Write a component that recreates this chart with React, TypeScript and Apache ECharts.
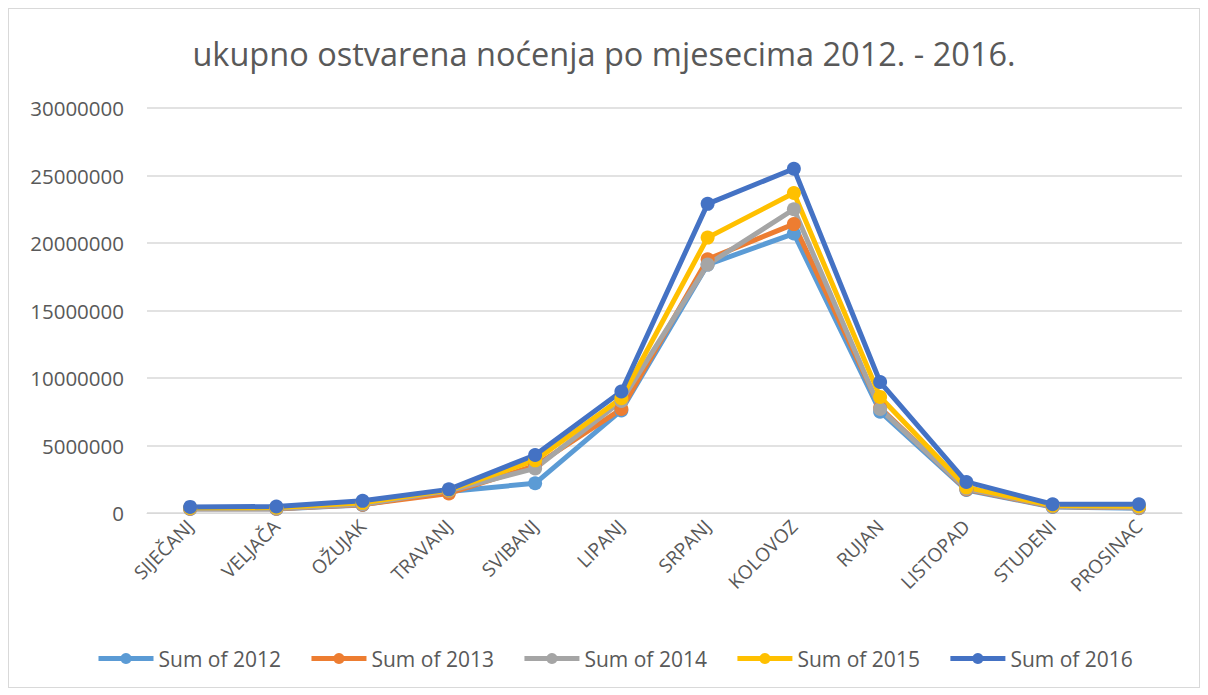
import React, { useEffect, useRef } from "react";
import * as echarts from "echarts";

const months = ["SIJEČANJ", "VELJAČA", "OŽUJAK", "TRAVANJ", "SVIBANJ", "LIPANJ", "SRPANJ", "KOLOVOZ", "RUJAN", "LISTOPAD", "STUDENI", "PROSINAC"];
const y2012 = [300000, 300000, 600000, 1600000, 2200000, 7600000, 18400000, 20700000, 7500000, 1700000, 450000, 350000];
const y2013 = [320000, 320000, 620000, 1450000, 3500000, 7700000, 18800000, 21400000, 7800000, 1750000, 480000, 380000];
const y2014 = [340000, 330000, 650000, 1650000, 3300000, 8300000, 18400000, 22500000, 7700000, 1800000, 500000, 400000];
const y2015 = [380000, 400000, 750000, 1700000, 3900000, 8500000, 20400000, 23700000, 8600000, 1900000, 550000, 500000];
const y2016 = [450000, 480000, 900000, 1750000, 4300000, 9000000, 22900000, 25500000, 9700000, 2300000, 650000, 650000];

const seriesNames = ["Sum of 2012", "Sum of 2013", "Sum of 2014", "Sum of 2015", "Sum of 2016"];
const seriesData = [y2012, y2013, y2014, y2015, y2016];
const colors = ["#5B9BD5", "#ED7D31", "#A5A5A5", "#FFC000", "#4472C4"];

const FONT = "'Open Sans', sans-serif";

export default function App() {
  const ref = useRef<HTMLDivElement>(null);
  useEffect(() => {
    if (!ref.current) return;
    const chart = echarts.init(ref.current, undefined, { renderer: "svg" });
    chart.setOption({
      animation: false,
      color: colors,
      title: {
        text: "ukupno ostvarena noćenja po mjesecima 2012. - 2016.",
        left: "center",
        top: 23,
        textStyle: { fontFamily: FONT, fontSize: 32.5, fontWeight: "normal", color: "#595959" },
      },
      legend: {
        bottom: 13,
        left: 82,
        itemWidth: 55,
        itemHeight: 14,
        itemGap: 28,
        lineStyle: { width: 5 },
        textStyle: { fontFamily: FONT, fontSize: 21, color: "#595959" },
        data: seriesNames,
      },
      grid: { left: 138, right: 17, top: 99, bottom: 174 },
      xAxis: {
        type: "category",
        data: months,
        boundaryGap: true,
        axisLine: { lineStyle: { color: "#d9d9d9" } },
        axisTick: { show: false },
        axisLabel: { rotate: 45, color: "#595959", fontFamily: FONT, fontSize: 19, margin: 10, interval: 0 },
      },
      yAxis: {
        type: "value",
        min: 0,
        max: 30000000,
        interval: 5000000,
        axisLine: { show: false },
        axisTick: { show: false },
        splitLine: { lineStyle: { color: "#d9d9d9", width: 1.5 } },
        axisLabel: {
          color: "#595959",
          fontFamily: FONT,
          fontSize: 20.5,
          margin: 23,
          formatter: (v: number) => String(v),
        },
      },
      series: seriesNames.map((name, i) => ({
        name,
        type: "line",
        data: seriesData[i],
        symbol: "circle",
        symbolSize: 14,
        lineStyle: { width: 5, color: colors[i] },
        itemStyle: { color: colors[i] },
      })),
    });
    return () => chart.dispose();
  }, []);
  return (
    <div
      ref={ref}
      style={{ width: 1192, height: 680, border: "1px solid #d9d9d9", boxSizing: "border-box", background: "#fff" }}
    />
  );
}
